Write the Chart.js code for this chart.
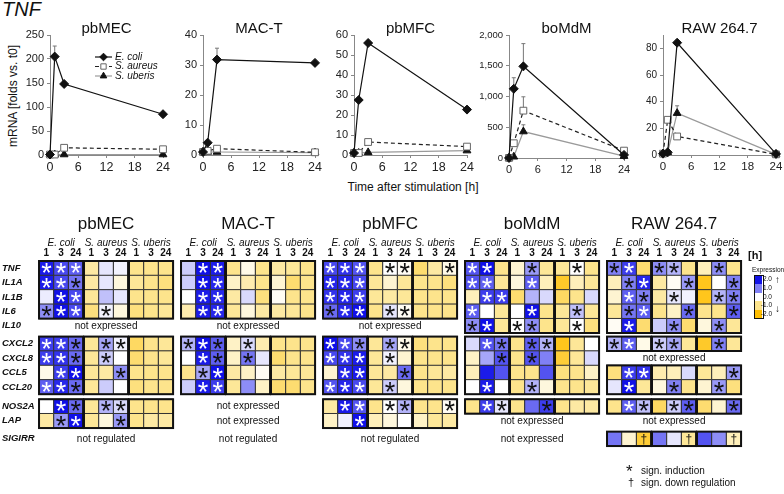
<!DOCTYPE html>
<html>
<head>
<meta charset="utf-8">
<script src="https://cdn.jsdelivr.net/npm/chart.js@4.4.1/dist/chart.umd.min.js"></script>
<style>
  body { margin: 0; background: #fff; font-family: "Liberation Sans", Arial, sans-serif; color: #111; }
  #fig { position: relative; width: 784px; height: 494px; overflow: hidden; }
  #fig canvas, .lab { position: absolute; }
  .ttl { position: absolute; width: 120px; text-align: center; font-size: 15px; }
  .cb { position: absolute; left: 755px; width: 7px; height: 8.4px; }
  .cbl { position: absolute; left: 752px; width: 20px; text-align: right; font-size: 6.5px; }
</style>
</head>
<body>
<div id="fig">
  <div class="lab" style="left:2px;top:-2px;font-size:20px;font-style:italic;">TNF</div>
  <div class="lab" style="left:-50px;top:89px;width:126px;text-align:center;font-size:12px;transform:rotate(-90deg);">mRNA [folds vs. t0]</div>
  <div class="lab" style="left:313px;top:180px;width:200px;text-align:center;font-size:12px;">Time after stimulation [h]</div>
  <canvas id="line0"></canvas>
  <canvas id="line1"></canvas>
  <canvas id="line2"></canvas>
  <canvas id="line3"></canvas>
  <canvas id="line4"></canvas>
  <canvas id="heat"></canvas>

  <div class="lab" style="left:748px;top:249px;font-size:11px;font-weight:bold;">[h]</div>
  <div class="lab" style="left:752px;top:266px;font-size:6.5px;">Expression</div>
  <div class="cb" style="top:276px;background:#1414e8;"></div>
  <div class="cb" style="top:284.4px;background:#8080f5;"></div>
  <div class="cb" style="top:292.8px;background:#fff;"></div>
  <div class="cb" style="top:301.2px;background:#fde48c;"></div>
  <div class="cb" style="top:309.6px;background:#ffbe00;"></div>
  <div class="lab" style="left:754px;top:275px;width:8px;height:42px;border:1px solid #111;"></div>
  <div class="cbl" style="left:752px;top:275px;">2.0</div>
  <div class="cbl" style="left:752px;top:284px;">1.0</div>
  <div class="cbl" style="left:752px;top:293px;">0.0</div>
  <div class="cbl" style="left:752px;top:301px;">-1.0</div>
  <div class="cbl" style="left:752px;top:310px;">-2.0</div>
  <div class="lab" style="left:775px;top:274px;font-size:10px;">&#8593;</div>
  <div class="lab" style="left:775px;top:303px;font-size:10px;">&#8595;</div>

  <div class="lab" style="left:626px;top:462px;font-size:17px;">*</div>
  <div class="lab" style="left:641px;top:465px;font-size:10px;">sign. induction</div>
  <div class="lab" style="left:628px;top:476px;font-size:11px;">&#8224;</div>
  <div class="lab" style="left:641px;top:477px;font-size:10px;">sign. down regulation</div>
</div>

<script>
Chart.defaults.font.family = '"Liberation Sans", Arial, sans-serif';
Chart.defaults.color = '#111';

// ---------- time course (mRNA folds vs. t0) ----------
const times = [0, 1, 3, 24];
const strainNames = ['E. coli', 'S. aureus', 'S. uberis'];

const pbMECEcoli = [1, 205, 148, 85];
const pbMECSaureus = [1, 1, 15, 12];
const pbMECSuberis = [1, 1, 1, 1];
const pbMECEcoliErr = [0, 22, 4, 0];

const macTEcoli = [1, 4.1, 31.8, 30.7];
const macTSaureus = [1, 1.4, 2.1, 0.9];
const macTSuberis = [1, 1, 1, 0.8];
const macTEcoliErr = [0, 0, 3.8, 0];

const pbMFCEcoli = [1, 27.5, 56, 22.7];
const pbMFCSaureus = [1, 1, 6.5, 4.2];
const pbMFCSuberis = [1, 1, 1.3, 2.2];

const boMdMEcoli = [1, 1125, 1490, 50];
const boMdMSaureus = [1, 240, 770, 120];
const boMdMSuberis = [1, 20, 430, 30];
const boMdMEcoliErr = [0, 180, 370, 0];
const boMdMSaureusErr = [0, 0, 225, 0];
const boMdMSuberisErr = [0, 0, 110, 0];

const rawEcoli = [1, 2, 84.2, 0.8];
const rawSaureus = [1, 26.4, 13.9, 0.5];
const rawSuberis = [1, 2, 31.4, 0.5];
const rawSuberisErr = [0, 0, 5.5, 0];

// ---------- heat maps (log expression, -2..2) ----------
const hmGenes = ['TNF', 'IL1A', 'IL1B', 'IL6', 'IL10', 'CXCL2', 'CXCL8', 'CCL5', 'CCL20', 'NOS2A', 'LAP', 'SIGIRR'];
const hmRows = [0, 1, 2, 3, 4, 5.25, 6.25, 7.25, 8.25, 9.6, 10.6, 11.85];
const hmPanelNames = ['pbMEC', 'MAC-T', 'pbMFC', 'boMdM', 'RAW 264.7'];
const hmStrains = ['E. coli', 'S. aureus', 'S. uberis'];
const hmHours = ['1', '3', '24'];

// columns: E. coli 1/3/24, S. aureus 1/3/24, S. uberis 1/3/24
// sig: w = induction (white star), k = induction (black star), d = down regulation
const pbMECExpr = [
  [1.9, 1.5, 1.3, -0.8, 0.2, 0.1, -1.0, -1.0, -1.0],
  [1.9, 1.5, 1.1, -0.8, 0.2, -0.3, -0.9, -1.0, -1.1],
  [0.15, 2.0, 1.5, -0.9, 0.5, 0.2, -1.0, -1.0, -1.0],
  [0.9, 2.0, 1.5, -1.1, 0.1, -0.3, -1.1, -1.0, -0.9],
  null,
  [1.6, 1.6, 1.2, -0.9, 0.7, 0.1, -1.3, -1.0, -0.9],
  [1.6, 1.7, 1.2, -0.9, 0.4, 0.0, -1.2, -1.0, -0.9],
  [-0.2, 1.6, 2.0, -0.9, -0.8, 0.9, -1.0, -1.0, -1.0],
  [1.3, 1.8, 1.2, -0.9, 0.4, 0.0, -1.1, -1.0, -1.0],
  [0.0, 2.0, 1.2, -0.9, 0.6, 0.3, -1.0, -1.0, -1.0],
  [-0.8, 0.8, 2.0, -0.9, -0.3, 0.8, -1.0, -0.8, -0.8],
  null
];
const pbMECSig = ['www......', 'wwk......', '.ww......', 'kww.k....', null,
  'wwk.kk...', 'wwk.k....', '.ww..k...', 'wwk......', '.wk.kk...', '.kw..k...', null];
const pbMECNotes = [[4, 'not expressed'], [11, 'not regulated']];

const macTExpr = [
  [0.4, 2.0, 1.9, -1.0, -0.2, -1.0, -0.8, -0.9, -1.0],
  [0.4, 2.0, 1.8, -0.5, -0.7, -1.0, -0.4, -1.2, -1.0],
  [0.0, 1.9, 1.8, -0.8, 0.3, -1.1, -0.1, -1.0, -1.0],
  [-0.7, 1.9, 1.8, -0.9, -0.3, -0.8, -0.8, -0.9, -1.0],
  null,
  [0.6, 2.0, 1.3, -0.5, 0.3, -0.7, -1.0, -1.0, -1.0],
  [0.0, 1.9, 1.3, -0.5, 1.1, 0.2, -1.2, -1.0, -1.0],
  [-1.0, 0.7, 2.0, -0.8, -0.5, -0.1, -0.8, -0.9, -0.9],
  [0.4, 1.9, 1.6, -0.9, 0.9, -0.5, -1.2, -1.2, -1.0],
  null, null, null
];
const macTSig = ['.ww......', '.ww......', '.ww......', '.ww......', null,
  'kwk.k....', '.wk.k....', '.kw......', '.ww......', null, null, null];
const macTNotes = [[4, 'not expressed'], [9, 'not expressed'], [10, 'not expressed'], [11, 'not regulated']];

const pbMFCExpr = [
  [1.5, 1.7, 1.4, -1.0, 0.0, -0.1, -1.2, -0.8, -0.2],
  [1.8, 1.8, 1.5, -0.9, -0.4, -0.9, -1.0, -1.0, -1.1],
  [1.7, 1.8, 1.6, -0.9, -0.8, -0.9, -1.0, -1.0, -1.0],
  [1.2, 1.8, 2.0, -1.0, 0.2, -0.1, -1.0, -1.0, -1.0],
  null,
  [2.0, 1.5, 0.9, -0.9, 0.7, -0.2, -1.1, -1.0, -1.0],
  [1.5, 1.7, 1.9, -0.9, 0.1, -0.4, -1.0, -1.0, -1.0],
  [-0.4, 1.8, 1.9, -0.9, -0.8, 1.2, -1.0, -0.9, -0.8],
  [1.4, 1.8, 1.5, -0.9, 0.4, -0.3, -1.0, -1.0, -1.0],
  [-0.8, 1.9, 1.4, -1.0, 0.0, 0.6, -1.0, -1.0, -0.1],
  [-0.5, 0.1, 2.0, -0.6, -0.3, 0.0, -0.5, -0.9, -0.8],
  null
];
const pbMFCSig = ['www.kk..k', 'www......', 'www......', 'kww.kk...', null,
  'wwk.kk...', 'www.k....', '.ww..k...', 'www.k....', '.ww.kk..k', '..w......', null];
const pbMFCNotes = [[4, 'not expressed'], [11, 'not regulated']];

const boMdMExpr = [
  [1.4, 2.0, -1.0, -0.4, 0.8, -0.9, -0.9, 0.0, -1.0],
  [1.4, 1.3, -0.9, -0.3, 1.3, -0.6, -1.7, -0.6, -0.9],
  [-0.6, 1.6, 1.6, -1.2, 0.6, 0.3, -1.3, -1.0, 0.3],
  [1.3, 0.0, -0.9, 0.0, 2.0, -1.0, -0.9, 0.5, -0.9],
  [0.9, 2.0, -0.9, 0.0, 0.9, -1.0, -0.9, 0.0, -1.1],
  [0.3, 1.4, 1.1, -1.0, 1.3, 0.6, -1.8, -0.9, 0.0],
  [-0.5, 0.7, 1.4, -1.0, 1.4, 1.0, -1.6, -0.9, 0.3],
  [-0.6, 1.9, 1.4, -1.0, -1.0, 1.4, -1.1, -1.0, -0.5],
  [0.0, 1.9, 0.0, -1.0, 0.6, -0.3, -1.0, -1.0, -0.9],
  [-1.0, 1.6, 0.2, -1.0, 1.2, 1.6, -1.0, -0.8, -0.8],
  null, null
];
const boMdMSig = ['ww..k..k.', 'ww..w....', '.ww......', 'w...w..k.', 'kw.kk..k.',
  '.wk.kk...', '..k.k....', '.........', '.w..k....', '.wk..k...', null, null];
const boMdMNotes = [[10, 'not expressed'], [11, 'not expressed']];

const rawExpr = [
  [1.0, 1.6, -1.2, 0.9, 0.6, -1.0, -0.6, 0.9, -1.0],
  [-0.6, 1.0, 1.8, -0.8, -0.1, 0.8, -1.8, 0.0, 1.0],
  [-0.4, 1.3, 1.0, -0.8, 0.2, 0.1, -1.8, 0.6, 1.0],
  [-0.9, 1.1, 1.3, -1.0, -0.5, 1.2, -1.0, -1.0, 1.3],
  [-0.1, 1.9, -1.2, 0.4, 0.9, -1.2, -0.3, 0.9, -0.9],
  [0.6, 1.3, -0.2, 0.4, 0.7, -0.9, -1.7, 1.0, -0.9],
  null,
  [-1.1, 1.6, 1.7, -0.7, -0.6, 0.3, -0.9, -0.6, 0.8],
  [0.2, 2.0, -0.9, -0.3, 1.0, -1.0, -0.4, 0.8, -1.1],
  [-1.0, 1.3, 0.5, -1.3, 0.4, 1.3, -1.2, -0.4, 1.2],
  null,
  [1.1, -0.4, -1.6, 1.1, 0.2, -0.9, 1.4, 0.9, -0.6]
];
const rawSig = ['kw.kk..k.', '.kw..k..k', '.wk.k..kk', '.kw..k..k', '.w..k..k.',
  'kw.kk..k.', null, '.ww.....k', '.w..k..k.', '.wk.kk..k', null, '..d..d..d'];
const rawNotes = [[6, 'not expressed'], [10, 'not expressed']];

// ---------- line charts ----------
const errorBars = {
  id: 'errorBars',
  beforeDatasetsDraw(chart) {
    const ctx = chart.ctx, ys = chart.scales.y;
    chart.data.datasets.forEach((ds, i) => {
      if (!ds.errUp) return;
      chart.getDatasetMeta(i).data.forEach((pt, j) => {
        const e = ds.errUp[j];
        if (!e) return;
        const yTop = ys.getPixelForValue(ds.data[j].y + e);
        ctx.save();
        ctx.strokeStyle = '#777';
        ctx.lineWidth = 1;
        ctx.beginPath();
        ctx.moveTo(pt.x, pt.y);
        ctx.lineTo(pt.x, yTop);
        ctx.moveTo(pt.x - 2, yTop);
        ctx.lineTo(pt.x + 2, yTop);
        ctx.stroke();
        ctx.restore();
      });
    });
  }
};

const lineLegend = {
  id: 'lineLegend',
  afterDraw(chart, args, opts) {
    if (!opts.show) return;
    const ctx = chart.ctx, a = chart.chartArea;
    chart.data.datasets.forEach((ds, i) => {
      const y = a.top + 22 + i * 9.5, x1 = a.left + 45, x2 = a.left + 62;
      ctx.save();
      ctx.strokeStyle = ds.borderColor;
      ctx.lineWidth = ds.borderWidth;
      ctx.setLineDash(ds.borderDash || []);
      ctx.beginPath();
      ctx.moveTo(x1, y);
      ctx.lineTo(x2, y);
      ctx.stroke();
      ctx.setLineDash([]);
      ctx.fillStyle = ds.pointBackgroundColor;
      ctx.strokeStyle = ds.pointBorderColor;
      ctx.lineWidth = 1;
      Chart.helpers.drawPoint(ctx, { pointStyle: ds.pointStyle, radius: 3.8, borderWidth: 1, rotation: 0 }, (x1 + x2) / 2, y);
      ctx.fillStyle = '#111';
      ctx.font = 'italic 10px "Liberation Sans"';
      ctx.textBaseline = 'middle';
      ctx.fillText(ds.label, x2 + 3, y);
      ctx.restore();
    });
  }
};

const linePanels = [
  { id: 'line0', title: 'pbMEC', series: [pbMECEcoli, pbMECSaureus, pbMECSuberis], errs: [pbMECEcoliErr, null, null], max: 250, step: 50, x0: 50, x24: 163, bottom: 155, font: 11, legend: true },
  { id: 'line1', title: 'MAC-T', series: [macTEcoli, macTSaureus, macTSuberis], errs: [macTEcoliErr, null, null], max: 40, step: 10, x0: 203, x24: 315, bottom: 155, font: 11 },
  { id: 'line2', title: 'pbMFC', series: [pbMFCEcoli, pbMFCSaureus, pbMFCSuberis], errs: [null, null, null], max: 60, step: 10, x0: 354, x24: 467, bottom: 155, font: 11 },
  { id: 'line3', title: 'boMdM', series: [boMdMEcoli, boMdMSaureus, boMdMSuberis], errs: [boMdMEcoliErr, boMdMSaureusErr, boMdMSuberisErr], max: 2000, step: 500, x0: 509, x24: 624, bottom: 158, font: 9.5 },
  { id: 'line4', title: 'RAW 264.7', series: [rawEcoli, rawSaureus, rawSuberis], errs: [null, null, rawSuberisErr], max: 90, step: 10, x0: 663, x24: 776, bottom: 155, font: 10 }
];

const looks = [
  { borderColor: '#111', borderWidth: 1.2, pointStyle: 'rectRot', pointRadius: 4.5, pointBackgroundColor: '#111', pointBorderColor: '#111' },
  { borderColor: '#222', borderWidth: 1.2, borderDash: [4, 3], pointStyle: 'rect', pointRadius: 4.8, pointBackgroundColor: '#fff', pointBorderColor: '#666' },
  { borderColor: '#9a9a9a', borderWidth: 1.2, pointStyle: 'triangle', pointRadius: 4.5, pointBackgroundColor: '#111', pointBorderColor: '#111' }
];

const fig = document.getElementById('fig');

linePanels.forEach(p => {
  const cv = document.getElementById(p.id);
  const top = 15, left = p.x0 - 40;
  const w = p.x24 - p.x0 + 40 + 10, h = p.bottom + 40 - top;
  cv.width = w;
  cv.height = h;
  cv.style.left = left + 'px';
  cv.style.top = top + 'px';

  const t = document.createElement('div');
  t.className = 'ttl';
  t.textContent = p.title;
  t.style.left = ((p.x0 + p.x24) / 2 - 60) + 'px';
  t.style.top = '19px';
  fig.appendChild(t);

  const datasets = p.series.map((s, i) => Object.assign({
    label: strainNames[i],
    data: times.map((tm, j) => ({ x: tm, y: s[j] })),
    errUp: p.errs[i],
    showLine: true,
    clip: false,
    pointBorderWidth: 1
  }, looks[i]));

  new Chart(cv, {
    type: 'scatter',
    data: { datasets },
    options: {
      responsive: false,
      animation: false,
      events: [],
      devicePixelRatio: 1,
      layout: { padding: { top: 35 - top, right: 10, left: 0, bottom: 0 } },
      plugins: { legend: { display: false }, tooltip: { enabled: false }, lineLegend: { show: !!p.legend } },
      scales: {
        x: {
          type: 'linear', min: 0, max: 24,
          afterFit: s => { s.height = 40; },
          ticks: { stepSize: 6, font: { size: p.font + 1.5 }, color: '#222', padding: 2 },
          grid: { drawOnChartArea: false, tickLength: 3, color: '#888' },
          border: { color: '#888' }
        },
        y: {
          min: 0, max: p.max,
          afterFit: s => { s.width = 40; },
          ticks: { stepSize: p.step, font: { size: p.font }, color: '#222', padding: 3, callback: v => v.toLocaleString('en-US') },
          grid: { drawOnChartArea: false, tickLength: 3, color: '#888' },
          border: { color: '#888' }
        }
      }
    },
    plugins: [errorBars, lineLegend]
  });
});

// ---------- heat map ----------
const PANEL_STEP = 9.66, BLOCK_STEP = 3.06;
const colX = (p, b, c) => p * PANEL_STEP + b * BLOCK_STEP + c;

const hmExpr = [pbMECExpr, macTExpr, pbMFCExpr, boMdMExpr, rawExpr];
const hmSig = [pbMECSig, macTSig, pbMFCSig, boMdMSig, rawSig];
const hmNotes = [pbMECNotes, macTNotes, pbMFCNotes, boMdMNotes, rawNotes];

const colCenters = [];
hmPanelNames.forEach((n, p) => { for (let k = 0; k < 9; k++) colCenters.push(colX(p, Math.floor(k / 3), k % 3)); });

const cells = [];
hmExpr.forEach((rows, p) => rows.forEach((vals, g) => {
  if (!vals) return;
  vals.forEach((v, k) => cells.push({ x: colX(p, Math.floor(k / 3), k % 3), y: hmRows[g], v: v, s: hmSig[p][g][k] }));
}));

const stops = [[-2, [255, 190, 0]], [-1, [253, 228, 140]], [0, [255, 255, 255]], [1, [128, 128, 245]], [2, [16, 16, 232]]];
function exprColor(v) {
  v = Math.max(-2, Math.min(2, v));
  for (let i = 0; i < stops.length - 1; i++) {
    const [a, ca] = stops[i], [b, cb] = stops[i + 1];
    if (v <= b) {
      const t = (v - a) / (b - a);
      return 'rgb(' + ca.map((c, j) => Math.round(c + (cb[j] - c) * t)).join(',') + ')';
    }
  }
  return '#fff';
}

function cellRadius(chart) {
  const xs = chart.scales.x;
  return (xs.getPixelForValue(1) - xs.getPixelForValue(0)) / Math.SQRT2;
}

const heatDecor = {
  id: 'heatDecor',
  afterDatasetsDraw(chart) {
    const ctx = chart.ctx, xs = chart.scales.x, ys = chart.scales.y;
    ctx.save();

    // block outlines
    ctx.strokeStyle = '#111';
    ctx.lineWidth = 2;
    hmExpr.forEach((rows, p) => {
      const groups = [];
      rows.forEach((vals, g) => {
        if (!vals) return;
        const last = groups[groups.length - 1];
        if (last && Math.abs(hmRows[g] - hmRows[last[last.length - 1]] - 1) < 0.05) last.push(g);
        else groups.push([g]);
      });
      groups.forEach(gr => {
        const yt = ys.getPixelForValue(hmRows[gr[0]] - 0.5);
        const yb = ys.getPixelForValue(hmRows[gr[gr.length - 1]] + 0.5);
        for (let b = 0; b < 3; b++) {
          const xl = xs.getPixelForValue(colX(p, b, 0) - 0.5);
          const xr = xs.getPixelForValue(colX(p, b, 2) + 0.5);
          ctx.strokeRect(xl, yt, xr - xl, yb - yt);
        }
      });
    });

    // significance marks
    const meta = chart.getDatasetMeta(0);
    ctx.textAlign = 'center';
    ctx.textBaseline = 'alphabetic';
    ctx.font = '27px "Liberation Sans"';
    const m = ctx.measureText('*');
    const starShift = (m.actualBoundingBoxAscent - m.actualBoundingBoxDescent) / 2;
    meta.data.forEach((el, i) => {
      const s = cells[i].s;
      if (s === 'w' || s === 'k') {
        ctx.fillStyle = s === 'w' ? '#fff' : '#111';
        ctx.font = '27px "Liberation Sans"';
        ctx.fillText('*', el.x, el.y + starShift);
      } else if (s === 'd') {
        ctx.fillStyle = '#111';
        ctx.font = '12px "Liberation Sans"';
        ctx.fillText('\u2020', el.x, el.y + 4.5);
      }
    });

    // notes, titles, strain names
    ctx.fillStyle = '#111';
    ctx.textBaseline = 'middle';
    hmPanelNames.forEach((name, p) => {
      const cx = xs.getPixelForValue(colX(p, 1, 1));
      ctx.font = '17px "Liberation Sans"';
      ctx.fillText(name, cx, 24);
      ctx.font = 'italic 10px "Liberation Sans"';
      hmStrains.forEach((st, b) => ctx.fillText(st, xs.getPixelForValue(colX(p, b, 1)), 43));
      ctx.font = '10px "Liberation Sans"';
      hmNotes[p].forEach(([g, txt]) => ctx.fillText(txt, cx, ys.getPixelForValue(hmRows[g])));
    });
    ctx.restore();
  }
};

const hc = document.getElementById('heat');
hc.width = 784;
hc.height = 294;
hc.style.left = '0px';
hc.style.top = '200px';

const noPad = s => { s.paddingTop = 0; s.paddingBottom = 0; s.paddingLeft = 0; s.paddingRight = 0; };

new Chart(hc, {
  type: 'scatter',
  data: {
    datasets: [{
      data: cells,
      pointStyle: 'rect',
      pointRadius: ctx => cellRadius(ctx.chart),
      pointHoverRadius: ctx => cellRadius(ctx.chart),
      pointBackgroundColor: ctx => exprColor(ctx.raw ? ctx.raw.v : 0),
      pointBorderColor: '#333',
      pointBorderWidth: 1,
      clip: false
    }]
  },
  options: {
    responsive: false,
    animation: false,
    events: [],
    devicePixelRatio: 1,
    layout: { padding: { left: 2, top: 0, right: 0, bottom: 0 } },
    plugins: { legend: { display: false }, tooltip: { enabled: false } },
    scales: {
      x: {
        type: 'linear', position: 'top', min: -0.57, max: 50.18,
        afterBuildTicks: s => { s.ticks = colCenters.map(v => ({ value: v })); },
        afterFit: s => { s.height = 61; noPad(s); },
        ticks: { autoSkip: false, maxRotation: 0, padding: 2, color: '#111', font: { size: 10, weight: 'bold' }, callback: (v, i) => hmHours[i % 3] },
        grid: { display: false, drawTicks: false, tickLength: 0 },
        border: { display: false }
      },
      y: {
        type: 'linear', reverse: true, min: -0.5, max: 15.68,
        afterBuildTicks: s => { s.ticks = hmRows.map(v => ({ value: v })); },
        afterFit: s => { s.width = 36; noPad(s); },
        ticks: { autoSkip: false, crossAlign: 'far', padding: 0, color: '#111', font: { size: 9.5, style: 'italic', weight: 'bold' }, callback: (v, i) => hmGenes[i] },
        grid: { display: false, drawTicks: false, tickLength: 0 },
        border: { display: false }
      }
    }
  },
  plugins: [heatDecor]
});
</script>
</body>
</html>
